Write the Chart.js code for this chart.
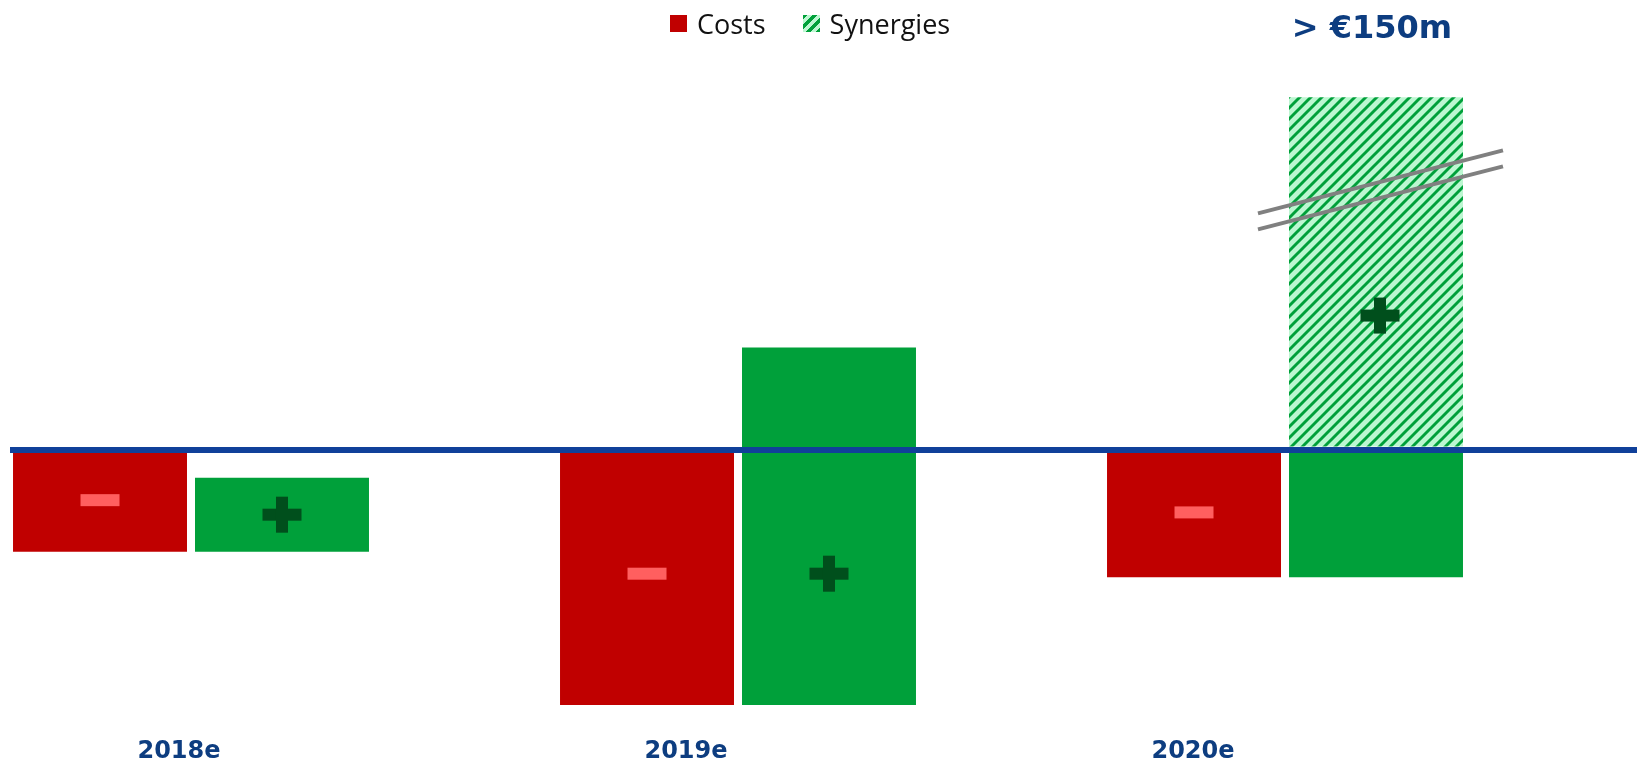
<!DOCTYPE html>
<html>
<head>
<meta charset="utf-8">
<script src="https://cdn.jsdelivr.net/npm/chart.js@4.4.1/dist/chart.umd.min.js"></script>
<style>
  body { margin: 0; background: #fff; }
  .wrap { position: relative; width: 1637px; height: 765px; }
  .legend { position: absolute; left: 670px; top: 4px; height: 38px; display: flex; align-items: center;
            font: 27px 'Open Sans', sans-serif; color: #111; }
  .legend .item { display: flex; align-items: center; }
  .legend .item + .item { margin-left: 37px; }
  .legend .box { width: 17px; height: 17px; margin-right: 10px; }
</style>
</head>
<body>
<div class="wrap">
  <canvas id="chart"></canvas>
  <div class="legend">
    <div class="item"><span class="box" style="background:#c00000"></span>Costs</div>
    <div class="item"><span class="box" style="background:repeating-linear-gradient(135deg,#00a03a 0 3px,#bdf7d2 3px 7px)"></span>Synergies</div>
  </div>
</div>
<script>
const years = ['2018e', '2019e', '2020e'];
const costs = [-40, -100, -50];
// solid synergies, measured up from the bottom of the cost bar
const synergies = [29, 140, 50];
// hatched part above the line (axis is broken, "> €150m")
const synergiesUpside = [null, null, 138];

const RED = '#c00000';
const GREEN = '#00a03a';
const NAVY = '#0d3d80';

function hatch() {
    const n = 11;
    const c = document.createElement('canvas');
    c.width = c.height = n;
    const g = c.getContext('2d');
    g.fillStyle = '#bcf7d1';
    g.fillRect(0, 0, n, n);
    g.strokeStyle = GREEN;
    g.lineWidth = 2.9;
    g.beginPath();
    g.moveTo(-n / 2, n / 2); g.lineTo(n / 2, -n / 2);
    g.moveTo(0, n); g.lineTo(n, 0);
    g.moveTo(n / 2, n * 1.5); g.lineTo(n * 1.5, n / 2);
    g.stroke();
    return g.createPattern(c, 'repeat');
}

function minus(ctx, x, y) {
    ctx.fillStyle = '#ff5f5f';
    ctx.fillRect(x - 19.5, y - 6, 39, 12);
}
function plus(ctx, x, y) {
    ctx.fillStyle = '#004f1c';
    ctx.fillRect(x - 19.5, y - 6, 39, 12);
    ctx.fillRect(x - 6, y - 18, 12, 36);
}

const decorations = {
    id: 'decorations',
    afterDatasetsDraw(chart) {
        const { ctx, scales: { y } } = chart;
        const zero = y.getPixelForValue(0);
        const signY = [];
        ctx.save();
        chart.getDatasetMeta(0).data.forEach((bar, i) => {
            signY[i] = bar.base + (bar.y - bar.base) * 0.48;
            minus(ctx, bar.x, signY[i]);
        });
        chart.getDatasetMeta(1).data.forEach((bar, i) => {
            if (synergiesUpside[i] !== null) return;
            const low = Math.max(bar.y, bar.base);
            const high = Math.min(bar.y, bar.base);
            // bars crossing the line carry the sign level with the minus
            plus(ctx, bar.x, high < zero ? signY[i] : (low + high) / 2);
        });
        chart.getDatasetMeta(2).data.forEach((bar, i) => {
            if (synergiesUpside[i] === null) return;
            const h = bar.base - bar.y;
            plus(ctx, bar.x + 4, bar.base - h * 0.375);
            // axis break marks
            const cx = bar.x, cy = bar.y + h * 0.245;
            ctx.strokeStyle = '#808080';
            ctx.lineWidth = 4;
            [0, 16].forEach(d => {
                ctx.beginPath();
                ctx.moveTo(cx - 118, cy + 30.5 + d);
                ctx.lineTo(cx + 127, cy - 32.5 + d);
                ctx.stroke();
            });
            ctx.fillStyle = NAVY;
            ctx.font = 'bold 32px "DejaVu Sans"';
            ctx.textAlign = 'center';
            ctx.textBaseline = 'middle';
            ctx.fillText('> €150m', bar.x - 4, bar.y - 68);
        });
        ctx.restore();
    }
};

const barOpts = { categoryPercentage: 0.6654, barPercentage: 0.956, xAxisID: 'x', yAxisID: 'y', borderWidth: 0 };
const yearTicks = s => { s.ticks = years.map((_, i) => ({ value: i })); };

const ctx = document.getElementById('chart').getContext('2d');
const myChart = new Chart(ctx, {
    type: 'bar',
    data: {
        datasets: [
            { ...barOpts, label: 'Costs', stack: 'costs', backgroundColor: RED,
              data: costs.map((v, i) => ({ x: i, y: v })) },
            { ...barOpts, label: 'Synergies', stack: 'syn', backgroundColor: GREEN,
              data: synergies.map((v, i) => ({ x: i, y: [costs[i], costs[i] + v] })) },
            { ...barOpts, label: 'Synergies > €150m', stack: 'syn', backgroundColor: hatch(),
              data: synergiesUpside.map((v, i) => ({ x: i, y: v === null ? null : [0, v] })) }
        ]
    },
    options: {
        animation: false,
        responsive: true,
        maintainAspectRatio: false,
        events: [],
        layout: { padding: { left: 10, right: 0, top: 50, bottom: 0 } },
        plugins: {
            legend: { display: false },
            tooltip: { enabled: false }
        },
        scales: {
            x: { type: 'linear', display: false, offset: false, min: -0.3309, max: 2.6435,
                 afterBuildTicks: yearTicks },
            xl: {
                type: 'linear',
                position: 'bottom',
                offset: false,
                min: -0.3333,
                max: 2.8757,
                grid: { display: false, drawTicks: false, offset: false },
                border: { display: false },
                afterBuildTicks: yearTicks,
                ticks: {
                    padding: 6,
                    color: NAVY,
                    font: { family: 'DejaVu Sans', weight: 'bold', size: 24, lineHeight: 0.6 },
                    callback: v => years[v]
                }
            },
            y: {
                stacked: false,
                min: -113.2,
                max: 156.5,
                afterBuildTicks: s => { s.ticks = [{ value: 0 }]; },
                ticks: { display: false },
                border: { display: false },
                grid: { color: '#10409a', lineWidth: 6, drawTicks: false, z: 1 }
            }
        }
    },
    plugins: [decorations]
});
</script>
</body>
</html>
